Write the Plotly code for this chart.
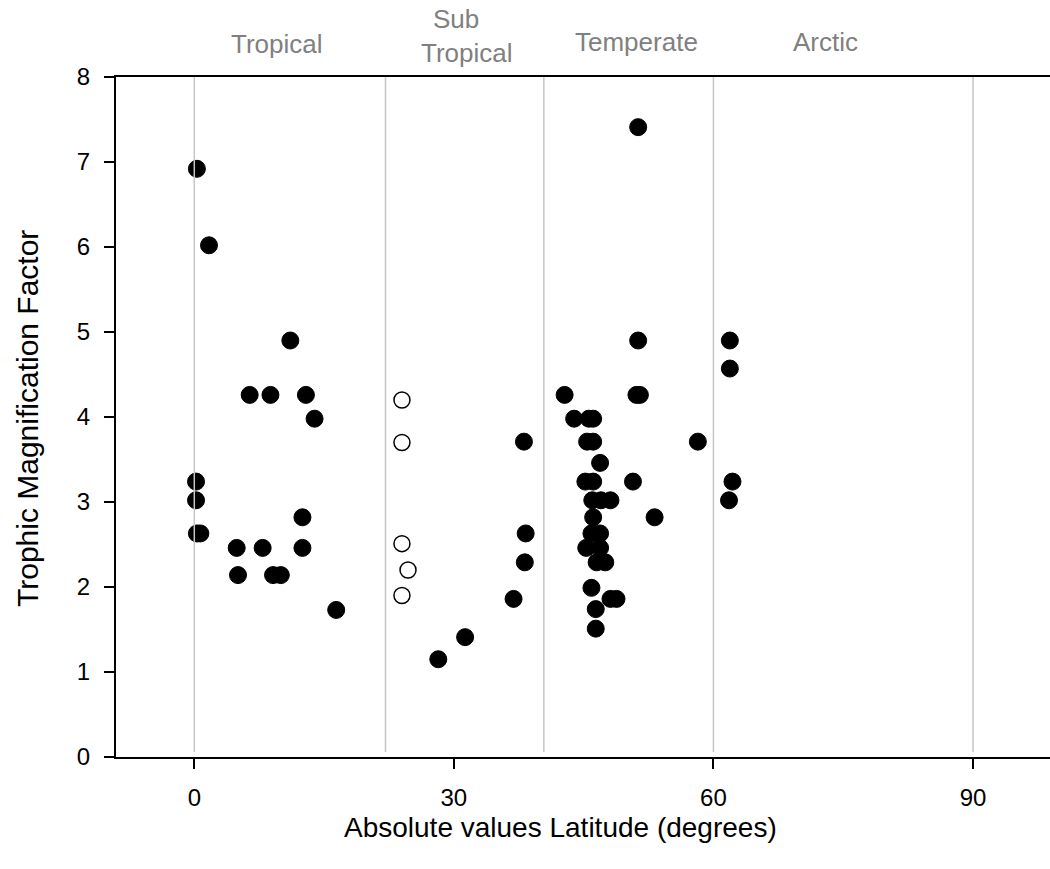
import plotly.graph_objects as go

# ---- data ----
filled_lat = [0.3, 1.7, 11.1, 6.4, 8.8, 12.9, 13.9, 0.2, 0.2, 0.3, 0.7, 12.5, 4.9, 7.9, 12.5,
              5.05, 9.1, 10.0, 16.4,
              28.2, 31.3, 36.9, 38.2, 38.3, 38.1,
              51.3, 51.3, 42.8, 51.1, 51.5, 43.9, 45.6, 46.1, 45.4, 46.1, 58.2, 46.9,
              45.2, 46.1, 50.7, 46.0, 47.0, 48.1, 46.1, 53.2, 45.9, 46.9, 45.3, 46.9,
              46.5, 47.5, 45.9, 48.1, 48.8, 46.4, 46.4,
              61.9, 61.9, 62.2, 61.8]
filled_tmf = [6.92, 6.02, 4.90, 4.26, 4.26, 4.26, 3.98, 3.24, 3.02, 2.63, 2.63, 2.82, 2.46, 2.46, 2.46,
              2.14, 2.14, 2.14, 1.73,
              1.15, 1.41, 1.86, 2.29, 2.63, 3.71,
              7.41, 4.90, 4.26, 4.26, 4.26, 3.98, 3.98, 3.98, 3.71, 3.71, 3.71, 3.46,
              3.24, 3.24, 3.24, 3.02, 3.02, 3.02, 2.82, 2.82, 2.63, 2.63, 2.46, 2.46,
              2.29, 2.29, 1.99, 1.86, 1.86, 1.74, 1.51,
              4.90, 4.57, 3.24, 3.02]

open_lat = [24.0, 24.0, 24.0, 24.7, 24.0]
open_tmf = [4.20, 3.70, 2.51, 2.20, 1.90]

zone_bounds = [0, 22.1, 40.4, 60, 90]
zone_labels = ["Tropical", "Sub", "Tropical", "Temperate", "Arctic"]
zone_label_x = [9.56, 30.2, 31.5, 51.1, 73.0]
zone_label_y = [1.0485, 1.0846, 1.036, 1.0522, 1.0522]

x_ticks = [0, 30, 60, 90]
y_ticks = [0, 1, 2, 3, 4, 5, 6, 7, 8]

FONT = "Liberation Sans, Arial, sans-serif"

fig = go.Figure()

fig.add_trace(go.Scatter(
    x=filled_lat, y=filled_tmf, mode="markers",
    marker=dict(size=17, color="black", line=dict(color="black", width=1)),
    showlegend=False, cliponaxis=False))

fig.add_trace(go.Scatter(
    x=open_lat, y=open_tmf, mode="markers",
    marker=dict(size=16, color="white", line=dict(color="black", width=1.5)),
    showlegend=False, cliponaxis=False))

for xb in zone_bounds:
    fig.add_shape(type="line", x0=xb, x1=xb, y0=0.06, y1=8, xref="x", yref="y",
                  line=dict(color="#c6c6c6", width=1.5), layer="above")

for txt, xx, yy in zip(zone_labels, zone_label_x, zone_label_y):
    fig.add_annotation(text=txt, x=xx, y=yy, xref="x", yref="paper",
                       showarrow=False, xanchor="center", yanchor="middle",
                       font=dict(family=FONT, size=26, color="#808080"))

fig.add_annotation(text="Absolute values Latitude (degrees)", x=0.476,
                   xref="paper", y=-0.1044, yref="paper", showarrow=False,
                   xanchor="center", yanchor="middle",
                   font=dict(family=FONT, size=28, color="black"))
fig.add_annotation(text="Trophic Magnification Factor", x=-0.0953, xref="paper",
                   y=0.4985, yref="paper", showarrow=False, textangle=-90,
                   xanchor="center", yanchor="middle",
                   font=dict(family=FONT, size=30, color="black"))

fig.update_xaxes(range=[-9.05, 98.9], tickvals=x_ticks, ticks="outside", ticklen=10,
                 tickwidth=2, tickcolor="black", showline=True, linecolor="black",
                 linewidth=2, mirror=True, showgrid=False, zeroline=False,
                 tickfont=dict(family=FONT, size=24, color="black"),
                 ticklabelstandoff=8)
fig.update_yaxes(range=[0, 8], tickvals=y_ticks, ticks="outside", ticklen=10,
                 tickwidth=2, tickcolor="black", showline=True, linecolor="black",
                 linewidth=2, showgrid=False, zeroline=False,
                 tickfont=dict(family=FONT, size=24, color="black"),
                 ticklabelstandoff=9)

fig.update_layout(width=1050, height=869, margin=dict(l=116, r=0, t=77, b=112),
                  plot_bgcolor="white", paper_bgcolor="white",
                  font=dict(family=FONT))

fig.write_html("out.html")
